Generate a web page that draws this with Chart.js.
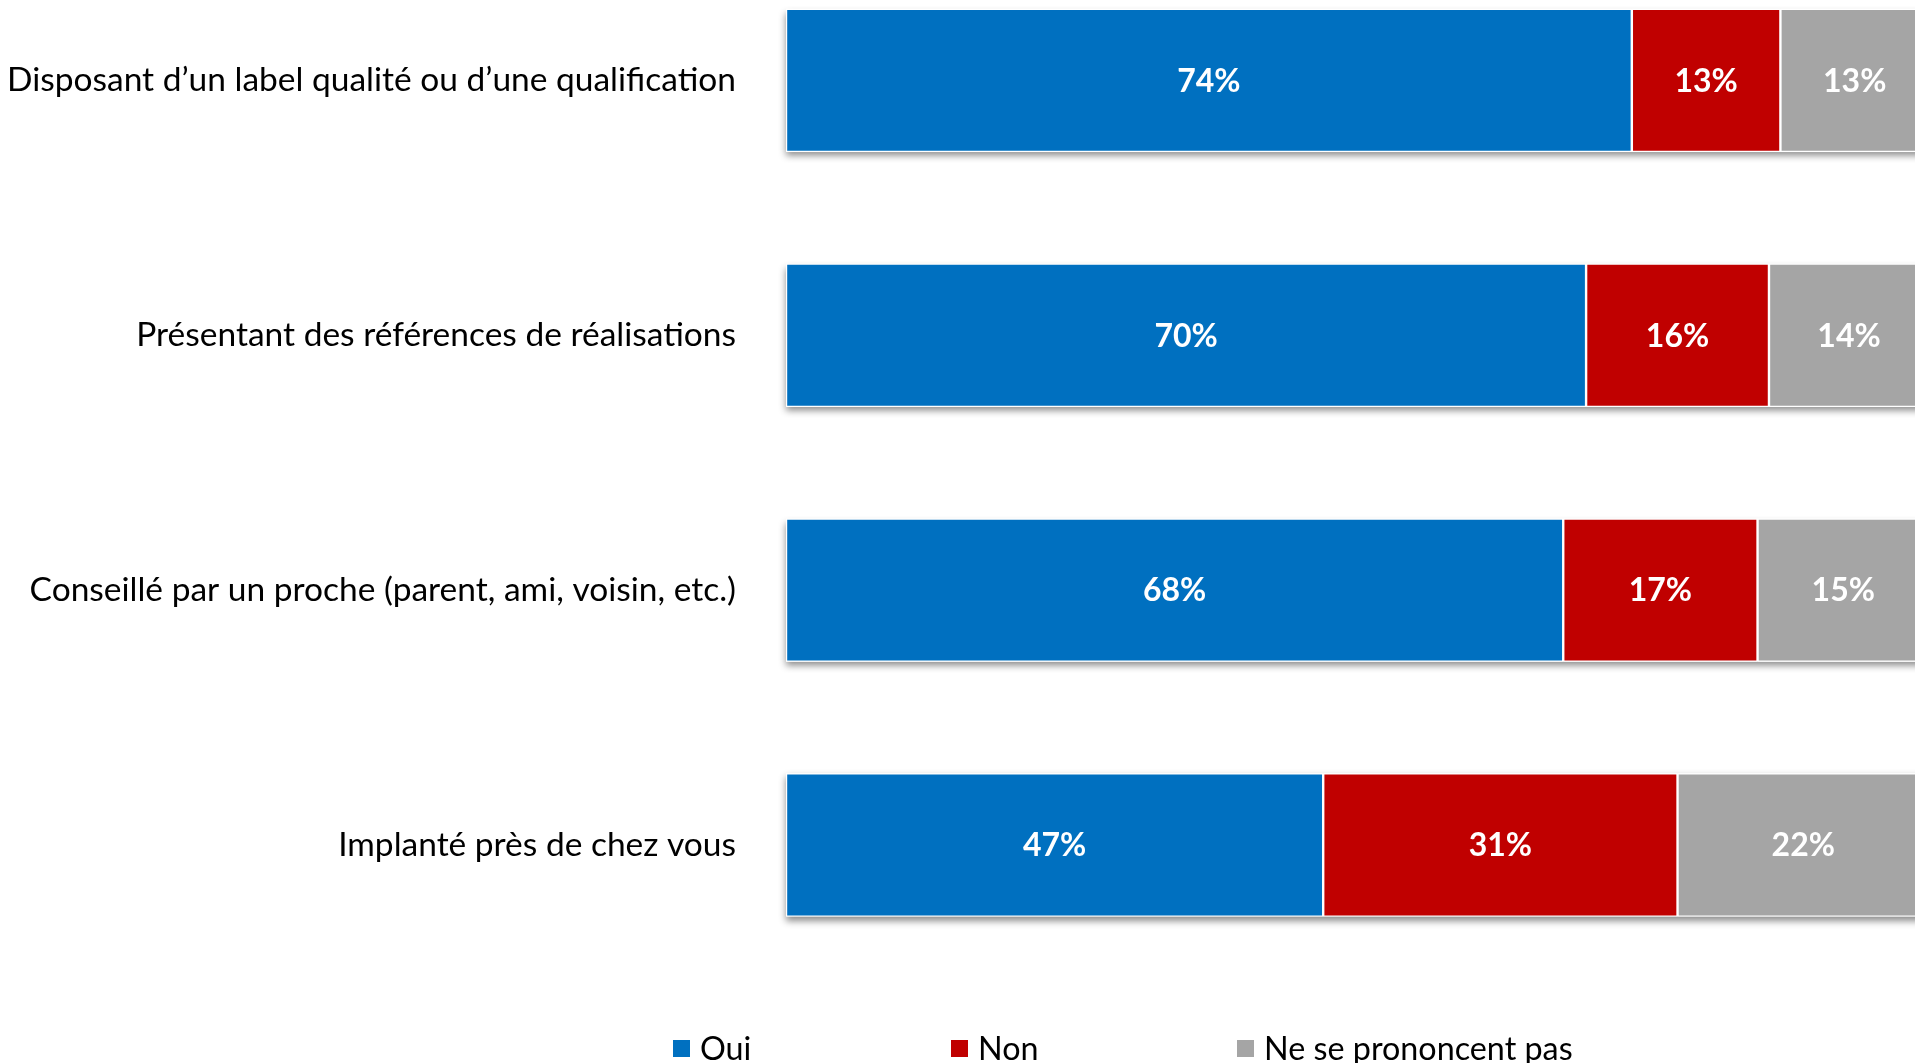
<!DOCTYPE html>
<html>
<head>
<meta charset="utf-8">
<script src="https://cdn.jsdelivr.net/npm/chart.js@4.4.1/dist/chart.umd.min.js"></script>
<style>
  html, body { margin: 0; padding: 0; background: #ffffff; overflow: hidden; width: 1915px; height: 1063px; }
  #wrap { position: absolute; left: 0; top: -47px; width: 1929px; height: 1110px; }
</style>
</head>
<body>
<div id="wrap"><canvas id="c" width="1929" height="1110"></canvas></div>
<script>
const categories = [
  "Disposant d’un label qualité ou d’une qualification",
  "Présentant des références de réalisations",
  "Conseillé par un proche (parent, ami, voisin, etc.)",
  "Implanté près de chez vous"
];
const seriesNames = ["Oui", "Non", "Ne se prononcent pas"];
const ouiValues = [74, 70, 68, 47];
const nonValues = [13, 16, 17, 31];
const nspValues = [13, 14, 15, 22];
const seriesColors = ["#0070C0", "#C00000", "#A5A5A5"];

const FONT = "Lato";

const shadowPlugin = {
  id: 'barShadow',
  beforeDatasetsDraw(chart) {
    const ctx = chart.ctx;
    const n = chart.data.datasets.length;
    const first = chart.getDatasetMeta(0).data;
    const last = chart.getDatasetMeta(n - 1).data;
    ctx.save();
    ctx.shadowColor = 'rgba(0,0,0,0.45)';
    ctx.shadowBlur = 7;
    ctx.shadowOffsetY = 4;
    ctx.fillStyle = '#ffffff';
    first.forEach((el, i) => {
      const l = el.base, r = last[i].x;
      const h = el.height;
      ctx.fillRect(l, el.y - h / 2, r - l, h);
    });
    ctx.restore();
  }
};

const valueLabelPlugin = {
  id: 'valueLabels',
  afterDatasetsDraw(chart) {
    const ctx = chart.ctx;
    ctx.save();
    ctx.fillStyle = '#ffffff';
    ctx.font = 'bold 32px ' + FONT;
    ctx.textAlign = 'center';
    ctx.textBaseline = 'middle';
    chart.data.datasets.forEach((ds, di) => {
      chart.getDatasetMeta(di).data.forEach((el, i) => {
        const cx = (el.base + el.x) / 2;
        ctx.fillText(ds.data[i] + '%', cx, el.y + 1);
      });
    });
    ctx.restore();
  }
};

const customLegendPlugin = {
  id: 'customLegend',
  afterDraw(chart, args, opts) {
    const ctx = chart.ctx;
    ctx.save();
    ctx.font = opts.fontSize + 'px ' + FONT;
    ctx.textBaseline = 'middle';
    ctx.textAlign = 'left';
    chart.data.datasets.forEach((ds, i) => {
      const x = opts.xs[i];
      ctx.fillStyle = ds.backgroundColor;
      ctx.fillRect(x, opts.boxTop, opts.box, opts.box);
      ctx.fillStyle = '#000000';
      ctx.fillText(ds.label, x + opts.textOffset, opts.textY);
    });
    ctx.restore();
  }
};

function build() {
  new Chart(document.getElementById('c'), {
    type: 'bar',
    data: {
      labels: categories,
      datasets: [
        { label: seriesNames[0], data: ouiValues, backgroundColor: seriesColors[0] },
        { label: seriesNames[1], data: nonValues, backgroundColor: seriesColors[1] },
        { label: seriesNames[2], data: nspValues, backgroundColor: seriesColors[2] }
      ]
    },
    options: {
      indexAxis: 'y',
      responsive: false,
      animation: false,
      events: [],
      layout: { padding: { left: 0, right: 0, top: 0, bottom: 90.6 } },
      datasets: {
        bar: {
          categoryPercentage: 1,
          barPercentage: 0.562,
          borderColor: '#ffffff',
          borderWidth: 1.2,
          borderSkipped: false
        }
      },
      scales: {
        x: { stacked: true, min: 0, max: 100, display: false },
        y: {
          stacked: true,
          grid: { display: false, drawTicks: false, drawOnChartArea: false },
          border: { display: false },
          ticks: { color: '#000000', font: { family: FONT, size: 33.5 }, padding: 50 },
          afterFit(scale) {
            scale.width = 786;
            scale.paddingTop = 0;
            scale.paddingBottom = 0;
          }
        }
      },
      plugins: {
        legend: { display: false },
        tooltip: { enabled: false },
        customLegend: { xs: [673, 951, 1237], box: 17, boxTop: 1087, textOffset: 27, textY: 1097, fontSize: 32.3 }
      }
    },
    plugins: [shadowPlugin, valueLabelPlugin, customLegendPlugin]
  });
}

if (document.fonts && document.fonts.load) {
  Promise.all([
    document.fonts.load('33.5px ' + FONT),
    document.fonts.load('bold 32px ' + FONT)
  ]).then(build, build);
} else {
  build();
}
</script>
</body>
</html>
